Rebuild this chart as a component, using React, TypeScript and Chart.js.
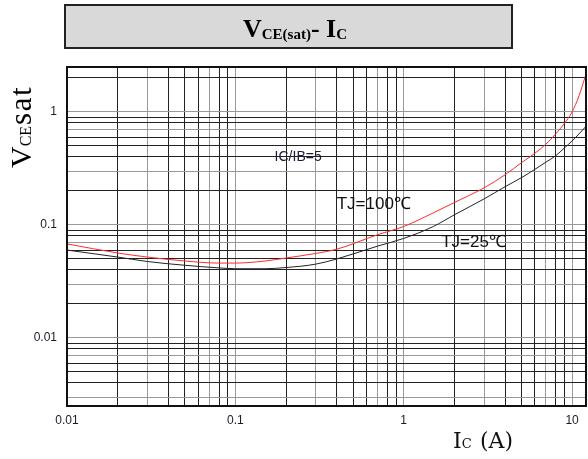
import React, { useEffect, useRef } from "react";
import { Chart, registerables } from "chart.js";

Chart.register(...registerables);

// ---- data ----
const currents = [0.01, 0.02, 0.03, 0.05, 0.08, 0.1, 0.15, 0.2, 0.3, 0.4, 0.7, 1, 1.5, 2, 3, 4, 5, 6, 7, 8, 9, 10, 11, 12];
const vce100 = [0.068, 0.0565, 0.052, 0.048, 0.046, 0.046, 0.048, 0.051, 0.056, 0.061, 0.082, 0.097, 0.128, 0.158, 0.213, 0.278, 0.355, 0.43, 0.52, 0.64, 0.79, 1.0, 1.39, 2.08];
const vce25 = [0.06, 0.052, 0.0475, 0.044, 0.0417, 0.041, 0.041, 0.042, 0.045, 0.05, 0.065, 0.076, 0.097, 0.123, 0.17, 0.218, 0.262, 0.31, 0.36, 0.41, 0.48, 0.553, 0.64, 0.736];

const xGridValues = [0.01, 0.02, 0.03, 0.04, 0.05, 0.06, 0.07, 0.08, 0.09, 0.1, 0.2, 0.3, 0.4, 0.5, 0.6, 0.7, 0.8, 0.9, 1, 2, 3, 4, 5, 6, 7, 8, 9, 10];
const xTickLabels = [0.01, 0.1, 1, 10];
const yGridValues = [0.003, 0.004, 0.005, 0.006, 0.007, 0.008, 0.009, 0.01, 0.02, 0.03, 0.04, 0.05, 0.06, 0.07, 0.08, 0.09, 0.1, 0.2, 0.3, 0.4, 0.5, 0.6, 0.7, 0.8, 0.9, 1, 2];
const yTickLabels = [0.01, 0.1, 1];

const annotationTexts = ["IC/IB=5", "TJ=100℃", "TJ=25℃"];
const annotationX = [0.236, 0.4, 1.67];
const annotationY = [0.4, 0.153, 0.0707];

const fmt = (v: number) => (v >= 1 ? String(Math.round(v)) : String(Number(v.toPrecision(2))));
const near = (v: number, list: number[]) => list.some((t) => Math.abs(t - v) / t < 1e-6);
const mantissa = (v: number) => Math.round(v / Math.pow(10, Math.floor(Math.log10(v) + 1e-9)));
const gridColor = (v: number) => {
  const m = mantissa(v);
  return m === 1 || m === 3 || m === 7 ? "#999999" : "#222222";
};

const decorPlugin = {
  id: "decor",
  afterDraw(chart: any) {
    const ctx = chart.ctx as CanvasRenderingContext2D;
    const a = chart.chartArea;
    ctx.save();
    // plot frame
    ctx.strokeStyle = "#111";
    ctx.lineWidth = 2;
    ctx.strokeRect(a.left, a.top, a.right - a.left, a.bottom - a.top);

    // title box
    ctx.fillStyle = "#d9d9d9";
    ctx.fillRect(65, 5, 447, 43);
    ctx.strokeStyle = "#222";
    ctx.lineWidth = 2;
    ctx.strokeRect(65, 5, 447, 43);
    const parts: [string, string, number][] = [
      ["V", "bold 26px 'Liberation Serif'", 0],
      ["CE(sat)", "bold 15px 'Liberation Serif'", 2],
      ["- I", "bold 26px 'Liberation Serif'", 0],
      ["C", "bold 15px 'Liberation Serif'", 2],
    ];
    let total = 0;
    parts.forEach(([t, f]) => {
      ctx.font = f;
      total += ctx.measureText(t).width;
    });
    let x = 295 - total / 2;
    ctx.fillStyle = "#000";
    ctx.textBaseline = "alphabetic";
    ctx.textAlign = "left";
    parts.forEach(([t, f, dy]) => {
      ctx.font = f;
      ctx.fillText(t, x, 37 + dy);
      x += ctx.measureText(t).width;
    });

    // y axis title (rotated)
    ctx.save();
    ctx.translate(31, 168);
    ctx.rotate(-Math.PI / 2);
    ctx.fillStyle = "#000";
    let yx = 0;
    ctx.font = "30px 'Liberation Serif'";
    ctx.fillText("V", yx, 0);
    yx += ctx.measureText("V").width;
    ctx.font = "16px 'Liberation Serif'";
    ctx.fillText("CE", yx, 0);
    yx += ctx.measureText("CE").width;
    ctx.font = "31px 'Liberation Serif'";
    (ctx as any).letterSpacing = "1.5px";
    ctx.fillText("sat", yx + 1, 0);
    (ctx as any).letterSpacing = "0px";
    ctx.restore();

    // x axis title
    ctx.fillStyle = "#111";
    ctx.font = "22px 'DejaVu Serif'";
    ctx.fillText("I", 453, 448);
    const xx = 453 + ctx.measureText("I").width;
    ctx.font = "13px 'DejaVu Serif'";
    ctx.fillText("C", xx, 448);
    ctx.font = "22px 'DejaVu Serif'";
    ctx.fillText("(A)", 480, 448);

    // annotations
    const xs = chart.scales.x;
    const ys = chart.scales.y;
    annotationTexts.forEach((t, i) => {
      const px = xs.getPixelForValue(annotationX[i]);
      const py = ys.getPixelForValue(annotationY[i]);
      ctx.font = i === 0 ? "14px 'Liberation Sans'" : "17px 'Liberation Sans'";
      ctx.fillStyle = i === 0 ? "#1a1a3a" : "#111";
      ctx.textBaseline = "middle";
      ctx.textAlign = i === 0 ? "center" : "left";
      ctx.fillText(t, px, py);
    });
    ctx.restore();
  },
};

export default function App() {
  const ref = useRef<HTMLCanvasElement | null>(null);
  useEffect(() => {
    if (!ref.current) return;
    const chart = new Chart(ref.current, {
      type: "line",
      data: {
        datasets: [
          {
            label: "TJ=100℃",
            data: currents.map((c, i) => ({ x: c, y: vce100[i] })),
            borderColor: "#ff2a2a",
            borderWidth: 1,
            pointRadius: 0,
            cubicInterpolationMode: "monotone",
          },
          {
            label: "TJ=25℃",
            data: currents.map((c, i) => ({ x: c, y: vce25[i] })),
            borderColor: "#222222",
            borderWidth: 1,
            pointRadius: 0,
            cubicInterpolationMode: "monotone",
          },
        ],
      },
      options: {
        animation: false,
        responsive: false,
        layout: { padding: { top: 67, right: 2, left: 0, bottom: 0 } },
        plugins: { legend: { display: false }, tooltip: { enabled: false }, title: { display: false } },
        scales: {
          x: {
            type: "logarithmic",
            min: 0.01,
            max: 12.1,
            afterBuildTicks: (axis: any) => {
              axis.ticks = xGridValues.map((v) => ({ value: v }));
            },
            afterFit: (axis: any) => {
              axis.height = 53;
            },
            grid: {
              drawTicks: false,
              color: (c: any) => gridColor(c.tick ? c.tick.value : 1),
              lineWidth: 1,
            },
            border: { display: true, color: "#111", width: 2 },
            ticks: {
              autoSkip: false,
              maxRotation: 0,
              padding: 7,
              color: "#1a1a2a",
              font: { family: "'Liberation Sans'", size: 12 },
              callback: (v: any) => (near(Number(v), xTickLabels) ? fmt(Number(v)) : ""),
            },
          },
          y: {
            type: "logarithmic",
            min: 0.0025,
            max: 2.5,
            afterBuildTicks: (axis: any) => {
              axis.ticks = yGridValues.map((v) => ({ value: v }));
            },
            afterFit: (axis: any) => {
              axis.width = 67;
            },
            grid: {
              drawTicks: false,
              color: (c: any) => gridColor(c.tick ? c.tick.value : 1),
              lineWidth: 1,
            },
            border: { display: true, color: "#111", width: 2 },
            ticks: {
              autoSkip: false,
              padding: 10,
              color: "#1a1a2a",
              font: { family: "'Liberation Sans'", size: 12 },
              callback: (v: any) => (near(Number(v), yTickLabels) ? fmt(Number(v)) : ""),
            },
          },
        },
      },
      plugins: [decorPlugin],
    } as any);
    return () => chart.destroy();
  }, []);
  return (
    <div style={{ position: "fixed", left: 0, top: 0, width: 588, height: 459, background: "#fff" }}>
      <canvas ref={ref} width={588} height={459} style={{ width: 588, height: 459, display: "block" }} />
    </div>
  );
}
